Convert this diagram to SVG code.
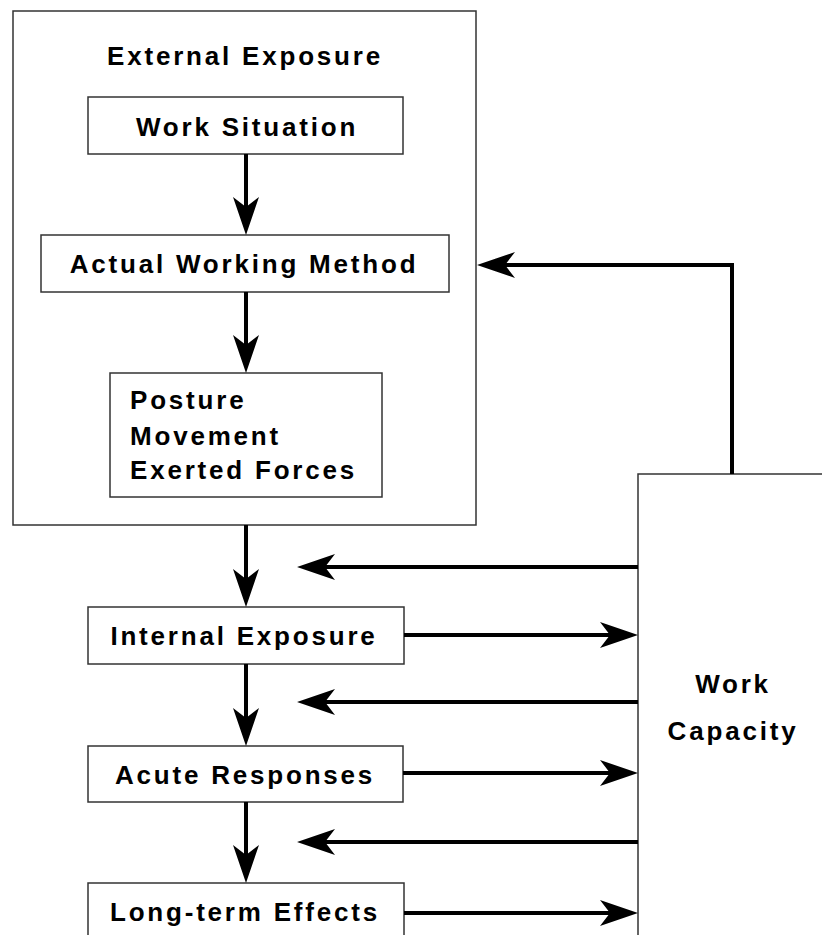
<svg xmlns="http://www.w3.org/2000/svg" width="822" height="935" viewBox="0 0 822 935">
<style>
.box{fill:#fff;stroke:#333;stroke-width:1.5}
.t{font-family:"Liberation Sans",Arial,sans-serif;font-weight:bold;font-size:26px;letter-spacing:2.8px;fill:#000}
.c{text-anchor:middle}
.ln{fill:none;stroke:#000;stroke-width:4}
</style>
<defs>
<marker id="ah" markerUnits="userSpaceOnUse" markerWidth="40" markerHeight="30" viewBox="0 -14 40 28" refX="10" refY="0" orient="auto" overflow="visible">
<path d="M38,0 L0,-13 L10,0 L0,13 Z" fill="#000"/>
</marker>
</defs>
<rect width="822" height="935" fill="#fff"/>
<g id="external-exposure">
<rect class="box" x="13" y="11" width="463" height="514"/>
<text class="t c" x="245" y="65">External Exposure</text>
</g>
<g id="work-situation">
<rect class="box" x="88" y="97" width="315" height="57"/>
<text class="t c" x="247" y="136">Work Situation</text>
</g>
<g id="actual-working-method">
<rect class="box" x="41" y="235" width="408" height="57"/>
<text class="t c" x="244" y="273">Actual Working Method</text>
</g>
<g id="posture">
<rect class="box" x="110" y="373" width="272" height="124"/>
<text class="t" x="130" y="409">Posture</text>
<text class="t" x="130" y="445">Movement</text>
<text class="t" x="130" y="479">Exerted Forces</text>
</g>
<g id="internal-exposure">
<rect class="box" x="88" y="607" width="316" height="57"/>
<text class="t c" x="244" y="645">Internal Exposure</text>
</g>
<g id="acute-responses">
<rect class="box" x="88" y="746" width="315" height="56"/>
<text class="t c" x="245" y="784">Acute Responses</text>
</g>
<g id="long-term-effects">
<rect class="box" x="88" y="883" width="316" height="60"/>
<text class="t c" x="245" y="921">Long-term Effects</text>
</g>
<g id="work-capacity">
<rect class="box" x="638" y="474" width="200" height="480"/>
<text class="t c" x="733" y="693">Work</text>
<text class="t c" x="733" y="740">Capacity</text>
</g>
<g id="connectors">
<line class="ln" x1="246" y1="154" x2="246" y2="207" marker-end="url(#ah)"/>
<line class="ln" x1="246" y1="292" x2="246" y2="345" marker-end="url(#ah)"/>
<line class="ln" x1="246" y1="525" x2="246" y2="579" marker-end="url(#ah)"/>
<line class="ln" x1="246" y1="664" x2="246" y2="718" marker-end="url(#ah)"/>
<line class="ln" x1="246" y1="802" x2="246" y2="855" marker-end="url(#ah)"/>
<line class="ln" x1="638" y1="567" x2="325" y2="567" marker-end="url(#ah)"/>
<line class="ln" x1="638" y1="702" x2="325" y2="702" marker-end="url(#ah)"/>
<line class="ln" x1="638" y1="842" x2="325" y2="842" marker-end="url(#ah)"/>
<line class="ln" x1="404" y1="635" x2="610" y2="635" marker-end="url(#ah)"/>
<line class="ln" x1="403" y1="773" x2="610" y2="773" marker-end="url(#ah)"/>
<line class="ln" x1="404" y1="913" x2="610" y2="913" marker-end="url(#ah)"/>
<path class="ln" d="M732,474 V265 H505" marker-end="url(#ah)"/>
</g>
</svg>
